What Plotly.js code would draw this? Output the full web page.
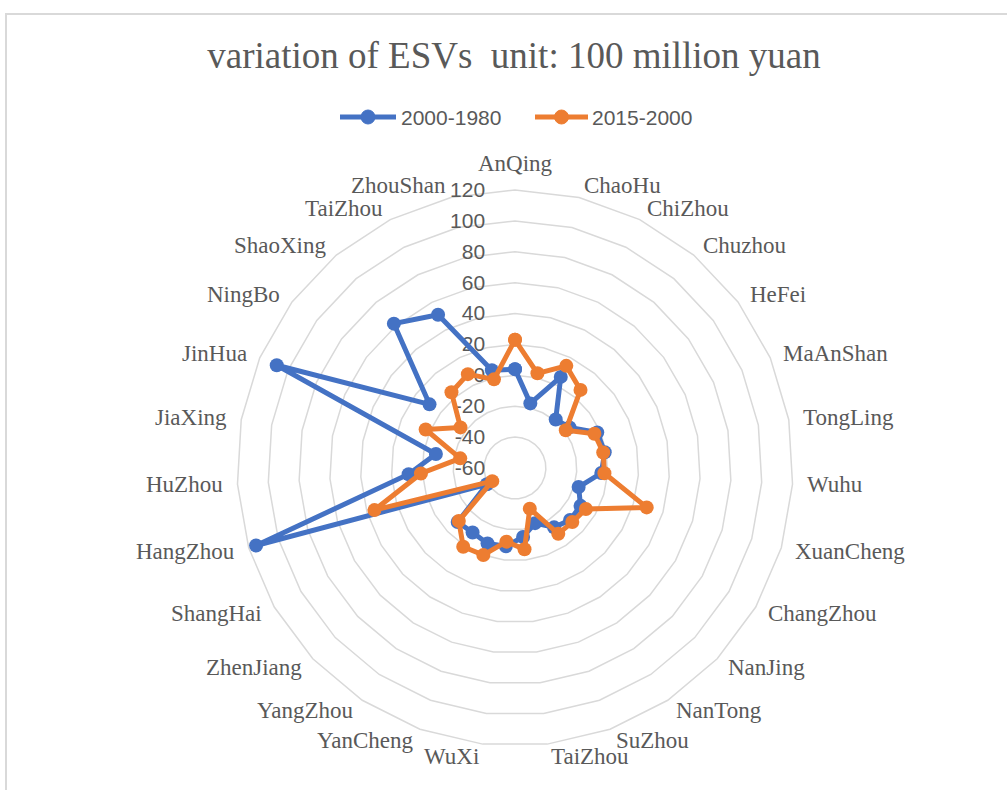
<!DOCTYPE html>
<html>
<head>
<meta charset="utf-8">
<script src="https://cdn.plot.ly/plotly-3.0.1.min.js"></script>
<style>
  html, body { margin: 0; padding: 0; background: #ffffff; }
  #wrap { position: relative; width: 1007px; height: 790px; overflow: hidden; }
  #chart { position: absolute; left: 0; top: 0; width: 1007px; height: 790px; }
  #frame { position: absolute; left: 5px; top: 13px; width: 1100px; height: 900px;
           border-left: 2px solid #d9d9d9; border-top: 2px solid #d9d9d9; pointer-events: none; }
</style>
</head>
<body>
<div id="wrap">
  <div id="chart"></div>
  <div id="frame"></div>
</div>
<script>
// City keys (unique) and the labels printed round the web
const cities = ["AnQing", "ChaoHu", "ChiZhou", "Chuzhou", "HeFei", "MaAnShan", "TongLing", "Wuhu",
  "XuanCheng", "ChangZhou", "NanJing", "NanTong", "SuZhou", "TaiZhou-JS", "WuXi", "YanCheng",
  "YangZhou", "ZhenJiang", "ShangHai", "HangZhou", "HuZhou", "JiaXing", "JinHua", "NingBo",
  "ShaoXing", "TaiZhou-ZJ", "ZhouShan"];
const cityLabels = ["AnQing", "ChaoHu", "ChiZhou", "Chuzhou", "HeFei", "MaAnShan", "TongLing", "Wuhu",
  "XuanCheng", "ChangZhou", "NanJing", "NanTong", "SuZhou", "TaiZhou", "WuXi", "YanCheng",
  "YangZhou", "ZhenJiang", "ShangHai", "HangZhou", "HuZhou", "JiaXing", "JinHua", "NingBo",
  "ShaoXing", "TaiZhou", "ZhouShan"];

// Change in ecosystem service value, 100 million yuan
const change2000_1980 = [4, -17, 6, -19, -16, -2, -1, -4, -17, -11, -11, -14, -22, -15, -9, -8,
  -10, -9, -39, 115, 9, -8, 108, 9, 62, 51, 5];
const change2015_2000 = [23, 3, 14, 6, -19, -4, -2, -2, 29, -7, -9, -9, -32, -7, -12, 0,
  1, -10, -43, 35, 1, -24, 3, -16, 4, 8, -1];

const seriesNames = ["2000-1980", "2015-2000"];
const seriesColors = ["#4472C4", "#ED7D31"];
const radialTicks = [-60, -40, -20, 0, 20, 40, 60, 80, 100, 120];
const radialRange = [-60, 120];

// close each ring back to the first city
const closed = arr => arr.concat([arr[0]]);

function series(name, values, color) {
  return {
    type: "scatterpolar",
    subplot: "polar2",
    name: name,
    r: closed(values),
    theta: closed(cities),
    mode: "lines+markers",
    line: { color: color, width: 5 },
    marker: { color: color, size: 14 },
    showlegend: false
  };
}

const data = [
  // the polygon web (grid + value labels) lives on its own subplot
  { type: "scatterpolar", subplot: "polar", r: [], theta: [], showlegend: false, hoverinfo: "skip" },
  series(seriesNames[0], change2000_1980, seriesColors[0]),
  series(seriesNames[1], change2015_2000, seriesColors[1])
];

const W = 1007, H = 790;
const cx = 515, cy = 468, R = 278;
const px = x => x / W;
const py = y => 1 - y / H;

const greyText = "#595959";
const serif = "Liberation Serif, Times New Roman, serif";
const sans = "Liberation Sans, Arial, sans-serif";

// City names sit just outside each corner of the outer ring
const cityAnnotations = cityLabels.map((label, i) => {
  const a = i * 2 * Math.PI / cities.length;
  const x = cx + (R + 12) * Math.sin(a);
  const y = cy - (R + 12) * Math.cos(a);
  const top = i === 0;
  return {
    text: label, showarrow: false,
    xref: "paper", yref: "paper",
    x: px(x), y: py(y),
    xanchor: top ? "center" : (Math.sin(a) > 0 ? "left" : "right"),
    yanchor: top ? "bottom" : "middle",
    font: { family: serif, size: 23, color: greyText }
  };
});

// Legend: line sample with a marker, then the series name
const legendRow = 117;
const legendItems = [
  { x0: 340, x1: 396, textX: 399 },
  { x0: 535, x1: 588, textX: 590 }
];
const legendShapes = [];
const legendAnnotations = [];
legendItems.forEach((it, k) => {
  const mid = (it.x0 + it.x1) / 2;
  legendShapes.push({
    type: "line", xref: "paper", yref: "paper",
    x0: px(it.x0), x1: px(it.x1), y0: py(legendRow), y1: py(legendRow),
    line: { color: seriesColors[k], width: 5 }
  });
  legendShapes.push({
    type: "circle", xref: "paper", yref: "paper",
    x0: px(mid - 7), x1: px(mid + 7), y0: py(legendRow + 7), y1: py(legendRow - 7),
    fillcolor: seriesColors[k], line: { color: seriesColors[k], width: 1 }
  });
  legendAnnotations.push({
    text: seriesNames[k], showarrow: false,
    xref: "paper", yref: "paper",
    x: px(it.textX), y: py(legendRow),
    xanchor: "left", yanchor: "middle",
    font: { family: sans, size: 21, color: greyText }
  });
});

const polarDomain = { x: [px(cx - R), px(cx + R)], y: [py(cy + R), py(cy - R)] };
const angular = {
  type: "category",
  direction: "clockwise",
  rotation: 90,
  categoryorder: "array",
  categoryarray: cities,
  showticklabels: false,
  ticks: "",
  showgrid: false
};

const layout = {
  width: W, height: H,
  margin: { l: 0, r: 0, t: 0, b: 0 },
  paper_bgcolor: "#ffffff",
  plot_bgcolor: "#ffffff",
  showlegend: false,
  title: {
    text: "variation of ESVs  unit: 100 million yuan",
    font: { family: serif, size: 37, color: greyText },
    x: px(514), xanchor: "center", xref: "paper",
    y: py(55), yanchor: "middle", yref: "paper"
  },
  shapes: legendShapes,
  annotations: cityAnnotations.concat(legendAnnotations),
  polar: {
    domain: polarDomain,
    bgcolor: "#ffffff",
    gridshape: "linear",
    angularaxis: Object.assign({}, angular, { showline: true, linecolor: "#d9d9d9", linewidth: 1.5 }),
    radialaxis: {
      range: radialRange,
      angle: 90,
      side: "counterclockwise",
      tickmode: "array",
      tickvals: radialTicks,
      ticktext: radialTicks.map(String),
      tickangle: 90,
      showline: false,
      ticks: "outside",
      ticklen: 22,
      tickcolor: "rgba(0,0,0,0)",
      showgrid: true,
      gridcolor: "#d9d9d9",
      gridwidth: 1.5,
      tickfont: { family: sans, size: 21, color: greyText }
    }
  },
  polar2: {
    domain: polarDomain,
    bgcolor: "rgba(0,0,0,0)",
    gridshape: "circular",
    angularaxis: Object.assign({}, angular, { showline: false }),
    radialaxis: {
      range: radialRange,
      angle: 90,
      showline: false,
      showgrid: false,
      showticklabels: false,
      ticks: ""
    }
  }
};

Plotly.newPlot("chart", data, layout, { displayModeBar: false, staticPlot: true });
</script>
</body>
</html>
